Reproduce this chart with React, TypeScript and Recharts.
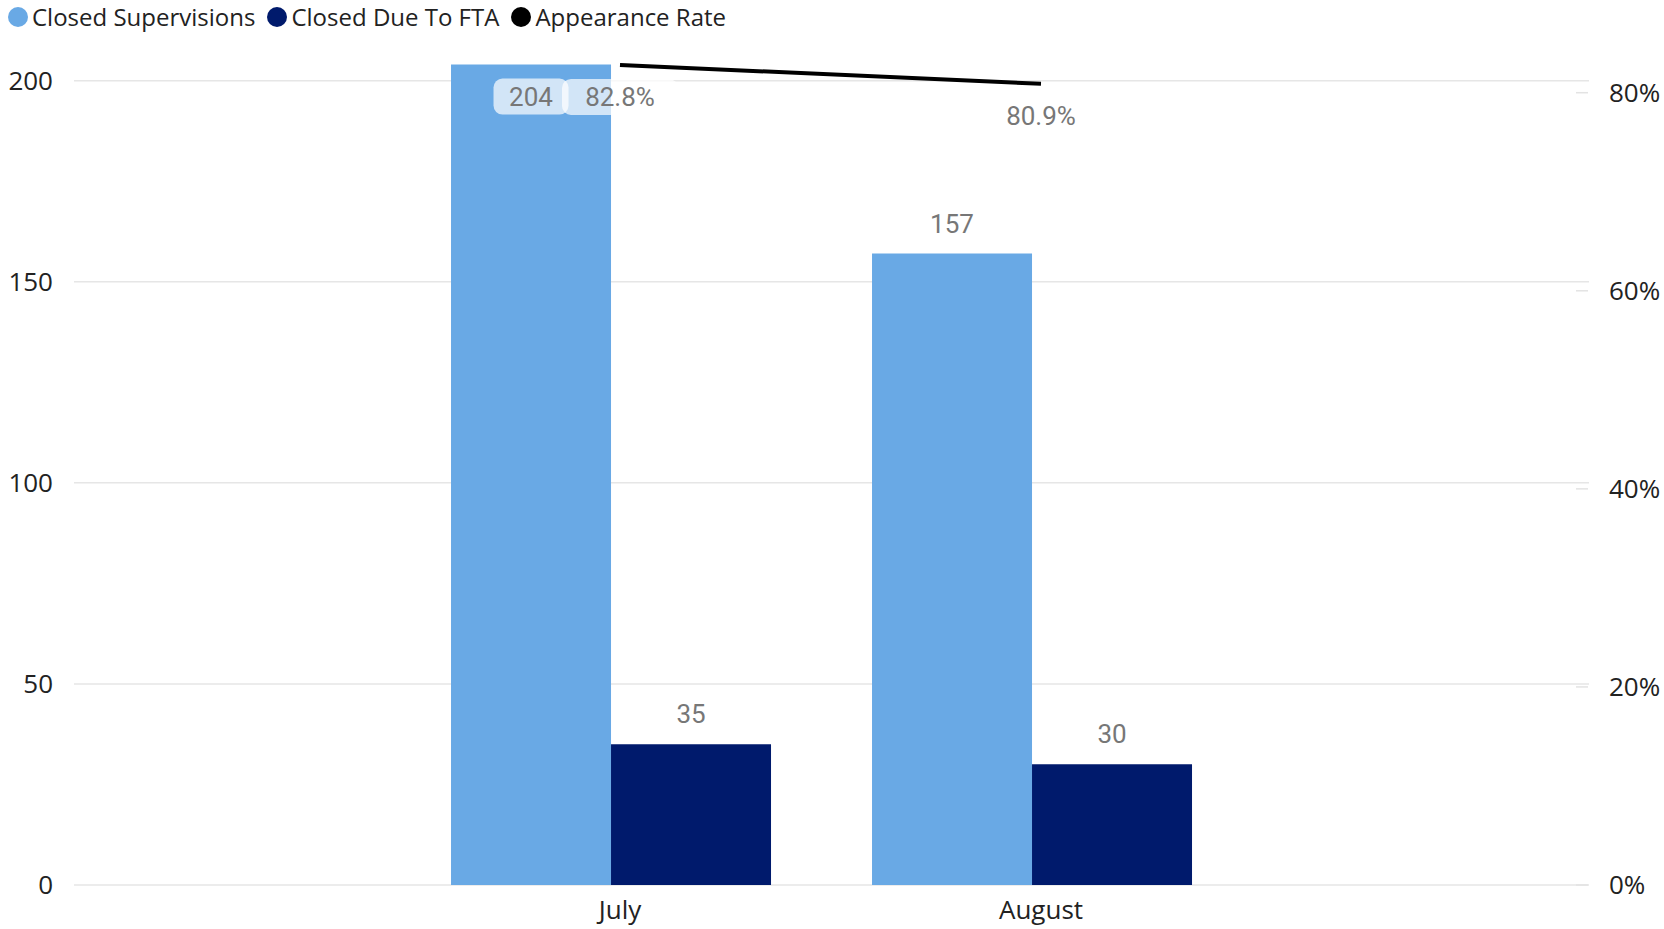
import { ComposedChart, Bar, Line, XAxis, YAxis, CartesianGrid, Legend, LabelList } from 'recharts'

const months = ['July', 'August']
const closedSupervisions = [204, 157]
const closedDueToFta = [35, 30]
const appearanceRate = [0.828, 0.809]
const countTicks = [0, 50, 100, 150, 200]
const rateTicks = [0, 0.2, 0.4, 0.6, 0.8]

const LIGHT_BLUE = '#69A9E5'
const NAVY = '#001A6C'
const LABEL_GREY = '#777777'
const AXIS_FONT = '"Segoe UI", "Open Sans", sans-serif'
const LABEL_FONT = 'Roboto, sans-serif'

const legendItems = [
  { name: 'Closed Supervisions', color: LIGHT_BLUE },
  { name: 'Closed Due To FTA', color: NAVY },
  { name: 'Appearance Rate', color: '#000000' },
]

const data = months.map((month, i) => ({
  month,
  closed: closedSupervisions[i],
  fta: closedDueToFta[i],
  rate: appearanceRate[i],
}))

const PLOT_TOP = 63

function LabelBox({ cx, cy, width, text }: { cx: number; cy: number; width: number; text: string }) {
  return (
    <g>
      <rect x={cx - width / 2} y={cy - 18} width={width} height={36} rx={9} fill="#ffffff" fillOpacity={0.7} />
      <text x={cx} y={cy + 9.5} textAnchor="middle" fill={LABEL_GREY} fontFamily={LABEL_FONT} fontSize={26}>
        {text}
      </text>
    </g>
  )
}

function BarValueLabel(props: any) {
  const { x, y, width, value } = props
  const cx = Number(x) + Number(width) / 2
  const top = Number(y)
  // not enough room above the bar -> draw inside its top
  const cy = top - 45 < PLOT_TOP ? top + 32 : top - 30.5
  return <LabelBox cx={cx} cy={cy} width={75} text={String(value)} />
}

function RateLabel(props: any) {
  const { x, y, value } = props
  const text = `${(Number(value) * 100).toFixed(1)}%`
  return <LabelBox cx={Number(x)} cy={Number(y) + 32} width={116} text={text} />
}

function RightTick(props: any) {
  const { x, y, payload } = props
  return (
    <g>
      <line x1={x - 33} x2={x - 21} y1={y} y2={y} stroke="#e3e3e3" strokeWidth={1.5} />
      <text x={x} y={y} dy={9} textAnchor="start" fill="#222" fontFamily={AXIS_FONT} fontSize={26}>
        {`${Math.round(payload.value * 100)}%`}
      </text>
    </g>
  )
}

function MonthTick(props: any) {
  const { x, y, payload } = props
  return (
    <text x={x} y={y} dy={34} textAnchor="middle" fill="#222" fontFamily={AXIS_FONT} fontSize={26}>
      {payload.value}
    </text>
  )
}

function LegendContent() {
  return (
    <div style={{ display: 'flex', alignItems: 'center', fontFamily: AXIS_FONT, fontSize: 24, color: '#222', lineHeight: '34px' }}>
      {legendItems.map((it) => (
        <div key={it.name} style={{ display: 'flex', alignItems: 'center', marginRight: 12 }}>
          <span style={{ width: 20, height: 20, borderRadius: 10, background: it.color, marginRight: 4, display: 'inline-block' }} />
          <span>{it.name}</span>
        </div>
      ))}
    </div>
  )
}

export default function App() {
  return (
    <div style={{ position: 'absolute', left: 0, top: 0, width: 1664, height: 929, background: '#fff' }}>
      <ComposedChart
        width={1664}
        height={929}
        data={data}
        margin={{ top: PLOT_TOP, right: 0, bottom: 0, left: 0 }}
        barCategoryGap="12%"
        barGap={0}
      >
        <CartesianGrid
          yAxisId="left"
          xAxisId="line"
          vertical={false}
          syncWithTicks
          stroke="#e6e6e6"
          strokeWidth={1.5}
        />
        <XAxis
          xAxisId="line"
          dataKey="month"
          height={44}
          padding={{ left: 335.5, right: 337.5 }}
          axisLine={false}
          tickLine={false}
          tickSize={0}
          tickMargin={0}
          tick={<MonthTick />}
        />
        <XAxis xAxisId="bars" dataKey="month" hide height={0} padding={{ left: 326.5, right: 346.5 }} />
        <YAxis
          yAxisId="left"
          orientation="left"
          width={74}
          domain={[0, 204.4]}
          ticks={countTicks}
          allowDataOverflow
          axisLine={false}
          tickLine={false}
          tickSize={0}
          tickMargin={21}
          tick={{ fill: '#222', fontSize: 26, fontFamily: AXIS_FONT }}
        />
        <YAxis
          yAxisId="right"
          orientation="right"
          width={75}
          domain={[0, 0.83]}
          ticks={rateTicks}
          allowDataOverflow
          axisLine={false}
          tickLine={false}
          tickSize={0}
          tickMargin={20}
          tick={<RightTick />}
        />
        <Legend
          verticalAlign="middle"
          align="center"
          layout="horizontal"
          wrapperStyle={{ top: 0, left: 8, width: 'auto' }}
          content={<LegendContent />}
        />
        <Bar xAxisId="bars" yAxisId="left" dataKey="closed" name="Closed Supervisions" fill={LIGHT_BLUE} isAnimationActive={false}>
          <LabelList dataKey="closed" content={<BarValueLabel />} />
        </Bar>
        <Bar xAxisId="bars" yAxisId="left" dataKey="fta" name="Closed Due To FTA" fill={NAVY} isAnimationActive={false}>
          <LabelList dataKey="fta" content={<BarValueLabel />} />
        </Bar>
        <Line
          xAxisId="line"
          yAxisId="right"
          dataKey="rate"
          name="Appearance Rate"
          stroke="#000"
          strokeWidth={4}
          dot={false}
          activeDot={false}
          isAnimationActive={false}
        >
          <LabelList dataKey="rate" content={<RateLabel />} />
        </Line>
      </ComposedChart>
    </div>
  )
}
